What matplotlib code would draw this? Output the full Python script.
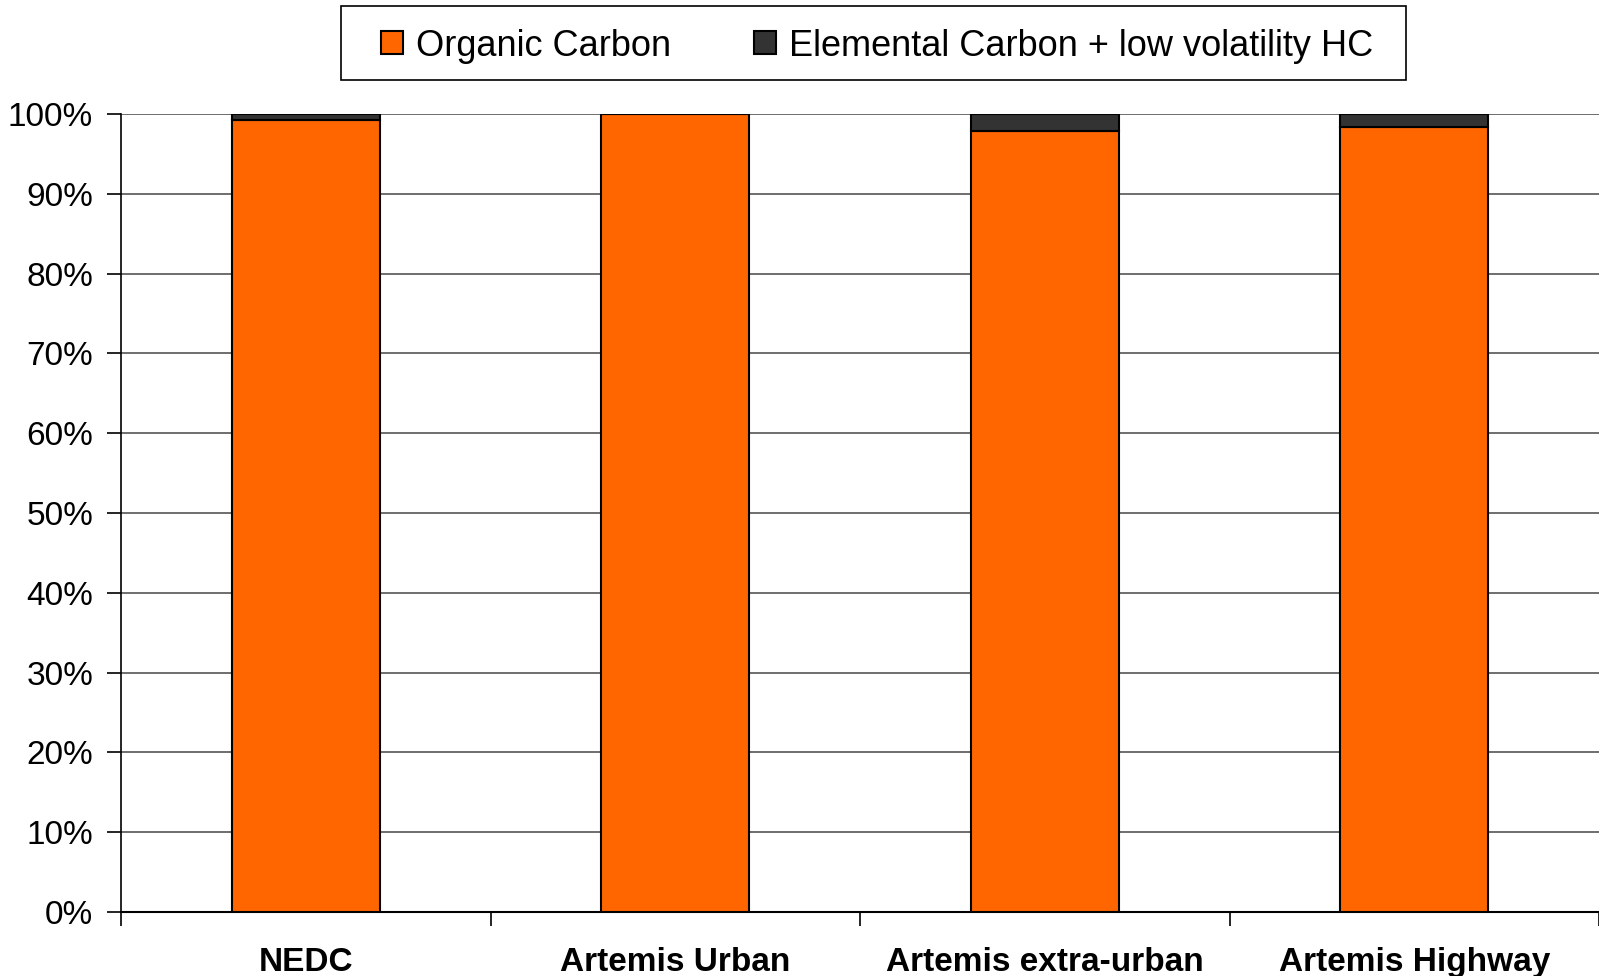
import matplotlib
matplotlib.use("Agg")
import matplotlib.pyplot as plt
from matplotlib.ticker import FixedLocator
from matplotlib.patches import Rectangle

plt.rcParams['font.family'] = ['Liberation Sans', 'DejaVu Sans']

categories = ["NEDC", "Artemis Urban", "Artemis extra-urban", "Artemis Highway"]
organic = [99.2, 100.0, 97.9, 98.4]
elemental = [0.8, 0.0, 2.1, 1.6]
yticks = [0, 10, 20, 30, 40, 50, 60, 70, 80, 90, 100]
ytick_labels = ["0%", "10%", "20%", "30%", "40%", "50%", "60%", "70%", "80%", "90%", "100%"]

W, H = 1599, 976
fig = plt.figure(figsize=(W / 100, H / 100), dpi=100)
ax = fig.add_axes([121/W, 1 - 912/H, (W - 121)/W, (912 - 114)/H])

x = list(range(len(categories)))
ax.bar(x, organic, width=0.4, color="#FF6600", edgecolor="black", linewidth=1.5,
       label="Organic Carbon", zorder=3)
ax.bar(x, elemental, bottom=organic, width=0.4, color="#333333", edgecolor="black",
       linewidth=1.5, label="Elemental Carbon + low volatility HC", zorder=3)

ax.set_xlim(-0.5, len(categories) - 0.5)
ax.set_ylim(0, 100)
ax.set_yticks(yticks)
ax.set_yticklabels(ytick_labels, fontsize=24)
ax.yaxis.grid(True, color="#555555", linewidth=1.2, zorder=0)
ax.set_axisbelow(True)

ax.set_xticks(x)
ax.set_xticklabels(categories, fontsize=24, fontweight="bold")
ax.tick_params(axis="x", length=0, pad=25)
ax.xaxis.set_minor_locator(FixedLocator([i + 0.5 for i in range(-1, len(categories))]))
ax.tick_params(axis="x", which="minor", length=10, width=1.2, direction="out")
ax.tick_params(axis="y", length=10, width=1.2, direction="out", pad=10)

for s in ["top", "right"]:
    ax.spines[s].set_visible(False)
ax.spines["left"].set_linewidth(1.2)
ax.spines["bottom"].set_linewidth(1.5)

# legend frame
fig.patches.append(Rectangle((341/W, 1 - 80/H), (1406 - 341)/W, (80 - 6)/H,
                             transform=fig.transFigure, facecolor="white",
                             edgecolor="black", linewidth=1.2, zorder=1))

handles, labels = ax.get_legend_handles_labels()
leg = fig.legend(handles, labels, loc="center", bbox_to_anchor=(877/W, 1 - 46/H),
                 ncol=2, fontsize=26, frameon=False,
                 handlelength=0.62, handleheight=0.62, columnspacing=2.3, handletextpad=0.35,
                 borderpad=0, borderaxespad=0)
leg.set_zorder(2)

fig.savefig("out.png", dpi=100)
